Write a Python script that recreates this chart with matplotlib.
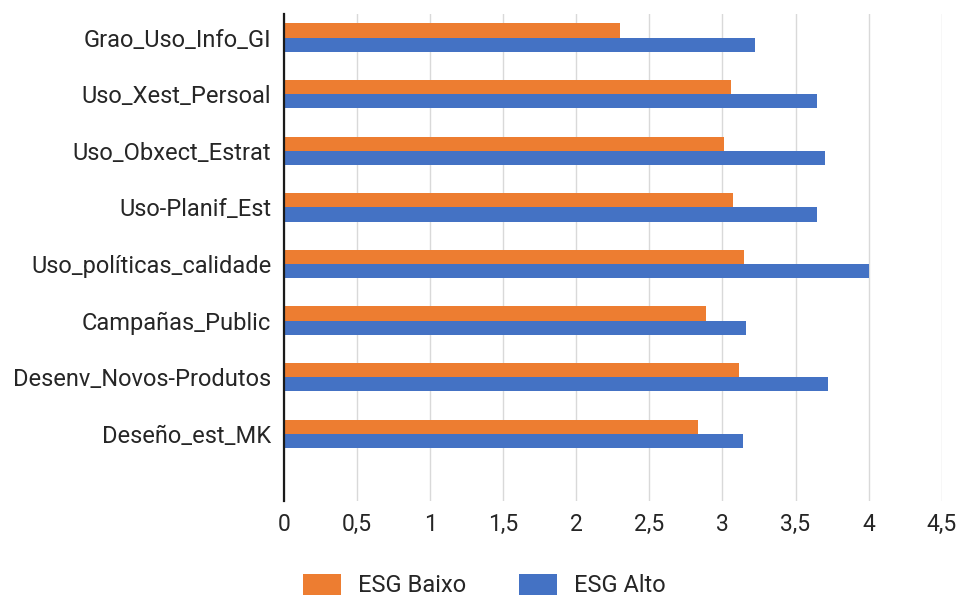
import matplotlib
import numpy as np

matplotlib.use("Agg")
import matplotlib.pyplot as plt

categories = [
    "Grao_Uso_Info_GI",
    "Uso_Xest_Persoal",
    "Uso_Obxect_Estrat",
    "Uso-Planif_Est",
    "Uso_políticas_calidade",
    "Campañas_Public",
    "Desenv_Novos-Produtos",
    "Deseño_est_MK",
]
esg_baixo = [2.30, 3.06, 3.01, 3.07, 3.15, 2.89, 3.11, 2.83]
esg_alto = [3.22, 3.65, 3.70, 3.65, 4.00, 3.16, 3.72, 3.14]
xticks = [0, 0.5, 1, 1.5, 2, 2.5, 3, 3.5, 4, 4.5]
xtick_labels = ["0", "0,5", "1", "1,5", "2", "2,5", "3", "3,5", "4", "4,5"]

ORANGE = "#ED7D31"
BLUE = "#4472C4"
TEXT = "#262626"

plt.rcParams["font.family"] = ["Roboto", "DejaVu Sans"]

fig = plt.figure(figsize=(9.59, 6.01), dpi=100)
ax = fig.add_axes([0.296, 0.167, 0.686, 0.810])

y = np.arange(len(categories))
h = 0.25
ax.barh(y - h / 2, esg_baixo, height=h, color=ORANGE, label="ESG Baixo", zorder=3)
ax.barh(y + h / 2, esg_alto, height=h, color=BLUE, label="ESG Alto", zorder=3)

ax.set_xlim(0, 4.5)
ax.set_ylim(len(categories) - 1 + 1.18, -0.42)
ax.set_yticks(y)
ax.set_yticklabels(categories, fontsize=17, color=TEXT)
ax.set_xticks(xticks)
ax.set_xticklabels(xtick_labels, fontsize=16.5, color=TEXT)
ax.tick_params(axis="both", length=0)
ax.tick_params(axis="y", pad=9)
ax.tick_params(axis="x", pad=9)

ax.grid(axis="x", color="#d9d9d9", linewidth=1.0, zorder=0)
for side in ["top", "right", "bottom"]:
    ax.spines[side].set_visible(False)
ax.spines["left"].set_color("#1a1a1a")
ax.spines["left"].set_linewidth(1.6)
ax.spines["left"].set_zorder(4)

# legend sits right at the bottom edge, as in the source image
fig.legend(
    loc="center", bbox_to_anchor=(0.505, 0.026), ncol=2, frameon=False,
    fontsize=17, labelcolor=TEXT, handlelength=1.6, handleheight=1.0,
    handletextpad=0.72, columnspacing=2.25, borderpad=0,
)

fig.savefig("out.png", dpi=100)
